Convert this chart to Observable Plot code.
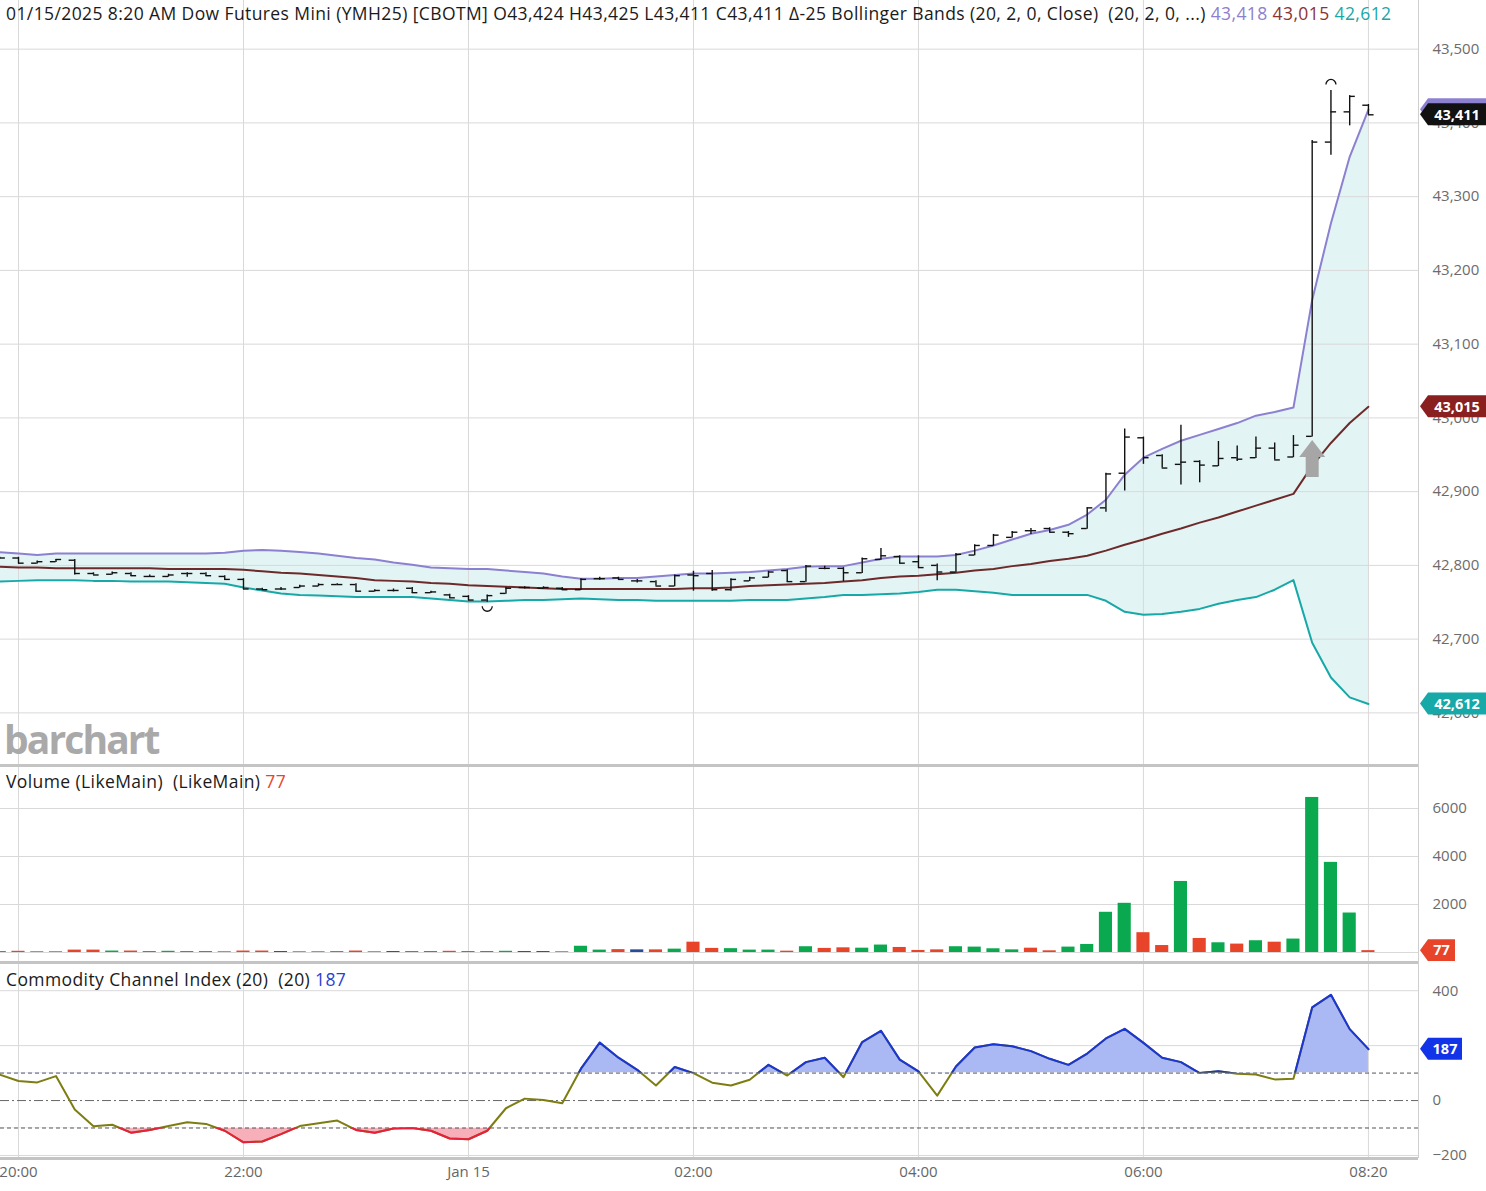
<!DOCTYPE html>
<html><head><meta charset="utf-8">
<script src="https://cdn.jsdelivr.net/npm/d3@7"></script>
<script src="https://cdn.jsdelivr.net/npm/@observablehq/plot@0.6"></script>
<style>
body{margin:0;background:#fff;font-family:"Open Sans",sans-serif;}
#wrap{position:relative;width:1486px;height:1191px;overflow:hidden;background:#fff;}
.pane{position:absolute;left:0;width:1486px;}
.pane svg{display:block;}
.sep{position:absolute;left:0;width:1418px;height:3px;background:#c4c4c4;}
.vline{position:absolute;left:1418px;top:0;width:1px;height:1158px;background:#cfcfcf;}
.lbl{position:absolute;left:6px;font-size:17.5px;letter-spacing:0.4px;color:#1a1a1a;white-space:pre;font-family:"Open Sans",sans-serif;}
#wm{position:absolute;left:4px;top:712px;font-family:"Open Sans",sans-serif;font-weight:700;font-size:39px;letter-spacing:-1.9px;color:#a9a9a9;}
</style>
</head><body>
<div id="wrap">
  <div id="main" class="pane" style="top:0"></div>
  <div id="vol" class="pane" style="top:767px"></div>
  <div id="cci" class="pane" style="top:963px"></div>
  <div class="sep" style="top:764px"></div>
  <div class="sep" style="top:961px"></div>
  <div class="sep" style="top:1157px"></div>
  <div class="vline"></div>
  <div id="wm">barchart</div>
  <div class="lbl" id="t1" style="top:1px"></div>
  <div class="lbl" id="t2" style="top:769px"></div>
  <div class="lbl" id="t3" style="top:967px"></div>
</div>
<script>
// ---------- DATA (10-minute bars, bar index -1 .. 72) ----------
const barIdx = d3.range(-1, 73);
const tickIdx = [0, 12, 24, 36, 48, 60, 72];
const tickLabels = ["20:00", "22:00", "Jan 15", "02:00", "04:00", "06:00", "08:20"];
const priceTicks = [42600, 42700, 42800, 42900, 43000, 43100, 43200, 43300, 43400, 43500];
const volTicks = [2000, 4000, 6000];
const volGrid = [0, 2000, 4000, 6000];
const cciTicks = [-200, 0, 400];
const cciGrid = [-200, 200, 400];
const cciBands = [100, -100];
const cciZero = [0];

const open = [42810,42810,42803,42805,42807,42789,42788,42789,42785,42785,
  42789,42789,42785,42781,42768,42768,42770,42772,42774,42774,
  42765,42766,42769,42763,42760,42758,42753,42762,42770,42769,
  42769,42767,42782,42783,42779,42778,42772,42787,42789,42767,
  42779,42784,42793,42778,42796,42796,42790,42808,42812,42805,
  42800,42791,42814,42827,42838,42847,42850,42845,42850,42878,
  42925,42973,42949,42937,42941,42935,42946,42946,42959,42947,
  42975,43374,43415,43424];
const high = [42811,42811,42806,42808,42808,42790,42791,42790,42787,42788,
  42790,42790,42786,42782,42769,42770,42773,42775,42775,42775,
  42767,42768,42770,42765,42761,42759,42760,42770,42771,42771,
  42770,42782,42784,42784,42781,42779,42787,42792,42793,42782,
  42784,42792,42794,42800,42799,42797,42810,42823,42813,42813,
  42802,42816,42828,42842,42846,42850,42851,42846,42878,42925,
  42985,42974,42950,42990,42942,42968,42962,42974,42966,42976,
  43376,43444,43437,43425];
const low = [42809,42802,42802,42804,42787,42787,42787,42785,42784,42784,
  42784,42785,42780,42767,42766,42766,42769,42771,42773,42764,
  42764,42764,42762,42762,42755,42752,42750,42761,42768,42768,
  42766,42766,42780,42780,42776,42772,42771,42765,42765,42765,
  42778,42783,42777,42777,42794,42778,42789,42807,42802,42796,
  42779,42790,42813,42826,42837,42842,42844,42838,42849,42872,
  42901,42937,42932,42909,42912,42934,42941,42945,42943,42946,
  42974,43356,43396,43411];
const close = [42810,42803,42805,42808,42789,42787,42790,42786,42785,42787,
  42789,42786,42781,42768,42767,42768,42772,42774,42774,42765,
  42766,42766,42763,42764,42756,42753,42759,42769,42770,42770,
  42767,42781,42782,42781,42779,42772,42786,42786,42767,42781,
  42783,42791,42778,42799,42796,42790,42809,42813,42803,42797,
  42791,42815,42827,42841,42845,42847,42845,42843,42878,42924,
  42974,42946,42932,42940,42936,42945,42944,42959,42943,42963,
  43374,43415,43436,43411];
const bbUpper = [42818,42816,42814,42816,42816,42816,42816,42816,42816,42816,
  42816,42816,42817,42820,42821,42820,42818,42816,42813,42810,
  42808,42804,42801,42797,42796,42795,42795,42793,42791,42789,
  42785,42782,42782,42783,42783,42785,42787,42789,42789,42790,
  42791,42793,42795,42798,42799,42799,42804,42809,42812,42812,
  42812,42814,42820,42827,42835,42843,42848,42855,42869,42889,
  42923,42946,42958,42969,42977,42985,42993,43003,43008,43014,
  43160,43264,43354,43418];
const bbMid = [42798,42797,42797,42796,42796,42796,42796,42796,42796,42795,
  42795,42795,42795,42794,42792,42790,42789,42787,42785,42783,
  42780,42779,42778,42776,42775,42773,42772,42771,42770,42769,
  42768,42768,42768,42768,42768,42768,42768,42769,42769,42770,
  42772,42773,42774,42775,42776,42778,42780,42783,42785,42786,
  42788,42790,42793,42795,42799,42802,42806,42809,42813,42820,
  42828,42835,42843,42850,42858,42865,42873,42881,42889,42897,
  42935,42966,42993,43015];
const bbLower = [42778,42779,42780,42780,42780,42779,42779,42778,42778,42778,
  42777,42776,42775,42770,42766,42762,42760,42759,42758,42757,
  42757,42757,42757,42755,42753,42751,42751,42752,42753,42753,
  42754,42755,42754,42753,42753,42752,42752,42752,42752,42752,
  42753,42753,42753,42755,42757,42760,42760,42761,42762,42764,
  42767,42767,42765,42763,42760,42760,42760,42760,42760,42752,
  42737,42733,42734,42737,42741,42748,42753,42757,42767,42780,
  42695,42648,42621,42612];
const volume = [40,50,30,30,100,100,60,60,40,50,
  40,40,30,60,60,40,30,30,30,60,
  30,40,40,40,50,40,40,50,40,40,
  30,260,100,120,110,110,140,430,170,160,
  100,100,55,240,170,195,180,310,210,85,
  110,240,225,155,110,180,70,225,335,1675,
  2050,825,290,2960,585,405,350,490,430,560,
  6460,3755,1645,77];
const volDir = ["d","d","u","u","d","d","u","d","d","u",
  "d","d","u","d","d","f","d","u","f","d",
  "d","f","d","u","d","d","u","u","f","f",
  "d","u","u","d","f","d","u","d","d","u",
  "u","u","d","u","d","d","u","u","d","d",
  "d","u","u","u","u","d","d","u","u","u",
  "u","d","d","u","d","u","d","u","d","u",
  "u","u","u","d"];
const cci = [94,71,66,89,-33,-94,-88,-117,-107,-93,
  -79,-85,-110,-152,-149,-122,-93,-83,-73,-107,
  -117,-102,-100,-110,-138,-141,-110,-28,7,2,
  -10,116,211,156,112,55,122,100,65,55,
  76,130,91,140,156,85,213,254,149,106,
  18,124,193,205,198,180,152,130,171,226,
  261,210,156,140,100,107,98,95,77,79,
  339,385,260,187];
const hiBar = 70, loBar = 25, signalBar = 69;

// ---------- BUILD ----------
const bars = barIdx.map((k, i) => ({k, o: open[i], h: high[i], l: low[i], c: close[i],
  up: bbUpper[i], mid: bbMid[i], lo: bbLower[i], v: volume[i], dir: volDir[i], cci: cci[i]}));
const last = bars[bars.length - 1], prev = bars[bars.length - 2];
const fmt = d3.format(",");
const W = 1486, MR = 68, FR = W - MR;
const xDomain = [-0.96, 74.67];
const grid = "#d9d9d9";
const C = {up: "#8c80d0", mid: "#6d2a2a", lo: "#17a8a8", fill: "#e3f4f4",
  green: "#0aa84f", red: "#e8442a", blue: "#2a4a9a", olive: "#7d7d12",
  cciBlue: "#1a35d8", cciRed: "#e8203c", cciBlueFill: "#aab8f4", cciRedFill: "#f7b0ba"};

const arrowSym = {draw(ctx) {
  ctx.moveTo(0, 0); ctx.lineTo(13, 17); ctx.lineTo(6.5, 17); ctx.lineTo(6.5, 37);
  ctx.lineTo(-6.5, 37); ctx.lineTo(-6.5, 17); ctx.lineTo(-13, 17); ctx.closePath();
}};
const capSym = {draw(ctx) { ctx.moveTo(-5, 0); ctx.arc(0, 0, 5, Math.PI, 0); }};
const cupSym = {draw(ctx) { ctx.moveTo(5, 0); ctx.arc(0, 0, 5, 0, Math.PI); }};

const baseStyle = {fontFamily: "Open Sans, sans-serif", fontSize: "15px", color: "#666", background: "transparent"};
const axisText = {anchor: "right", tickSize: 0, tickPadding: 14, fontSize: 15, fill: "#6b6b6b", label: null};

const mainPlot = Plot.plot({
  width: W, height: 764, marginTop: 0, marginBottom: 0, marginLeft: 0, marginRight: MR,
  style: baseStyle,
  x: {domain: xDomain, axis: null},
  y: {domain: [42530, 43566], axis: null},
  marks: [
    Plot.areaY(bars, {x: "k", y1: "lo", y2: "up", fill: C.fill}),
    Plot.gridY({ticks: priceTicks, stroke: grid, strokeOpacity: 1}),
    Plot.gridX({ticks: tickIdx, stroke: grid, strokeOpacity: 1}),
    Plot.lineY(bars, {x: "k", y: "up", stroke: C.up, strokeWidth: 2}),
    Plot.lineY(bars, {x: "k", y: "lo", stroke: C.lo, strokeWidth: 2}),
    Plot.lineY(bars, {x: "k", y: "mid", stroke: C.mid, strokeWidth: 2}),
    Plot.dot([bars.find(d => d.k === signalBar)], {x: "k", y: "l", symbol: arrowSym, fill: "#a6a6a6", stroke: "none", dy: 3}),
    Plot.ruleX(bars, {x: "k", y1: "l", y2: "h", stroke: "#111", strokeWidth: 1.4}),
    Plot.ruleY(bars, {x1: d => d.k - 0.3, x2: "k", y: "o", stroke: "#111", strokeWidth: 1.4}),
    Plot.ruleY(bars, {x1: "k", x2: d => d.k + 0.3, y: "c", stroke: "#111", strokeWidth: 1.4}),
    Plot.dot([bars.find(d => d.k === hiBar)], {x: "k", y: "h", symbol: capSym, stroke: "#111", fill: "none", strokeWidth: 1.3, dy: -6}),
    Plot.dot([bars.find(d => d.k === loBar)], {x: "k", y: "l", symbol: cupSym, stroke: "#111", fill: "none", strokeWidth: 1.3, dy: 4}),
    Plot.axisY({...axisText, ticks: priceTicks, tickFormat: fmt})
  ]
});

const volPlot = Plot.plot({
  width: W, height: 194, marginTop: 0, marginBottom: 0, marginLeft: 0, marginRight: MR,
  style: baseStyle,
  x: {domain: xDomain, axis: null},
  y: {domain: [-375, 7708], axis: null},
  color: {domain: ["u", "d", "f"], range: [C.green, C.red, C.blue]},
  marks: [
    Plot.gridY({ticks: volGrid, stroke: grid, strokeOpacity: 1}),
    Plot.gridX({ticks: tickIdx, stroke: grid, strokeOpacity: 1}),
    Plot.rect(bars, {x1: d => d.k - 0.35, x2: d => d.k + 0.35, y1: 0, y2: "v", fill: "dir"}),
    Plot.axisY({...axisText, ticks: volTicks, tickFormat: d3.format("d")})
  ]
});

// render helper: keep only the part of a mark above (or below) a CCI level
const ns = "http://www.w3.org/2000/svg";
function clipBand(level, above) {
  return (index, scales, values, dims, ctx, next) => {
    const g = next(index, scales, values, dims, ctx);
    const yl = scales.y(level);
    const y0 = above ? 0 : yl, y1 = above ? yl : dims.height;
    const s = document.createElementNS(ns, "svg");
    s.setAttribute("x", 0); s.setAttribute("y", y0);
    s.setAttribute("width", dims.width); s.setAttribute("height", y1 - y0);
    s.setAttribute("viewBox", `0 ${y0} ${dims.width} ${y1 - y0}`);
    s.setAttribute("preserveAspectRatio", "none");
    s.setAttribute("overflow", "hidden");
    s.appendChild(g);
    return s;
  };
}

const cciPlot = Plot.plot({
  width: W, height: 228, marginTop: 0, marginBottom: 33, marginLeft: 0, marginRight: MR,
  style: baseStyle,
  x: {domain: xDomain, axis: null},
  y: {domain: [-211, 499], axis: null},
  marks: [
    Plot.gridY({ticks: cciGrid, stroke: grid, strokeOpacity: 1}),
    Plot.gridX({ticks: tickIdx, stroke: grid, strokeOpacity: 1}),
    Plot.areaY(bars, {x: "k", y1: cciBands[0], y2: "cci", fill: C.cciBlueFill, render: clipBand(cciBands[0], true)}),
    Plot.areaY(bars, {x: "k", y1: cciBands[1], y2: "cci", fill: C.cciRedFill, render: clipBand(cciBands[1], false)}),
    Plot.ruleY(cciBands, {stroke: "#555", strokeDasharray: "4,3", strokeWidth: 1}),
    Plot.ruleY(cciZero, {stroke: "#666", strokeDasharray: "9,3,2,3", strokeWidth: 1}),
    Plot.lineY(bars, {x: "k", y: "cci", stroke: C.olive, strokeWidth: 2}),
    Plot.lineY(bars, {x: "k", y: "cci", stroke: C.cciBlue, strokeWidth: 2, render: clipBand(cciBands[0], true)}),
    Plot.lineY(bars, {x: "k", y: "cci", stroke: C.cciRed, strokeWidth: 2, render: clipBand(cciBands[1], false)}),
    Plot.axisY({...axisText, ticks: cciTicks}),
    Plot.axisX({ticks: tickIdx, anchor: "bottom", tickSize: 0, tickPadding: 8, fontSize: 15, fill: "#666", label: null,
      tickFormat: d => tickLabels[tickIdx.indexOf(d)]})
  ]
});

function badge(plot, value, color, label, x1) {
  const y = plot.scale("y").apply(value);
  const x0 = FR + 2, h = 22, tip = 8;
  const g = d3.select(plot).append("g");
  g.append("path").attr("d", `M${x0},${y}L${x0 + tip},${y - h / 2}L${x1},${y - h / 2}L${x1},${y + h / 2}L${x0 + tip},${y + h / 2}Z`).attr("fill", color);
  if (label) g.append("text").attr("x", (x0 + tip + x1) / 2).attr("y", y).attr("dy", "0.36em")
    .attr("text-anchor", "middle").attr("fill", "#fff").attr("font-weight", 700)
    .attr("font-size", 14.5).attr("font-family", "Open Sans, sans-serif").text(label);
}
badge(mainPlot, last.up, C.up, null, W);          // hidden under the close badge
badge(mainPlot, last.c, "#111", fmt(last.c), W);
badge(mainPlot, last.mid, "#8a1f1f", fmt(last.mid), W);
badge(mainPlot, last.lo, C.lo, fmt(last.lo), W);
badge(volPlot, last.v, C.red, String(last.v), FR + 37);
badge(cciPlot, last.cci, "#1134e8", String(last.cci), FR + 44);

document.getElementById("main").appendChild(mainPlot);
document.getElementById("vol").appendChild(volPlot);
document.getElementById("cci").appendChild(cciPlot);

const delta = last.c - prev.c;
document.getElementById("t1").innerHTML =
  `01/15/2025 8:20 AM Dow Futures Mini (YMH25) [CBOTM] O${fmt(last.o)} H${fmt(last.h)} L${fmt(last.l)} C${fmt(last.c)} Δ${delta} Bollinger Bands (20, 2, 0, Close)  (20, 2, 0, ...) ` +
  `<span style="color:${C.up}">${fmt(last.up)}</span> <span style="color:#8a3434">${fmt(last.mid)}</span> <span style="color:${C.lo}">${fmt(last.lo)}</span>`;
document.getElementById("t2").innerHTML = `Volume (LikeMain)  (LikeMain) <span style="color:${C.red}">${last.v}</span>`;
document.getElementById("t3").innerHTML = `Commodity Channel Index (20)  (20) <span style="color:#2a3fd0">${last.cci}</span>`;
</script>
</body></html>
